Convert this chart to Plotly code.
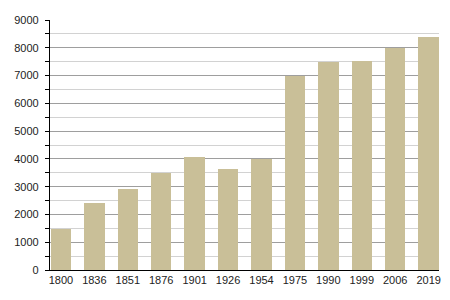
import plotly.graph_objects as go

years = ["1800", "1836", "1851", "1876", "1901", "1926", "1954", "1975", "1990", "1999", "2006", "2019"]
population = [1480, 2430, 2920, 3500, 4080, 3650, 4010, 6990, 7480, 7530, 7980, 8400]
y_ticks = [0, 1000, 2000, 3000, 4000, 5000, 6000, 7000, 8000, 9000]

xs = list(range(len(years)))

fig = go.Figure(go.Bar(
    x=xs, y=population, width=0.61,
    marker=dict(color="#C9BF98", line=dict(width=0)),
))

fig.update_layout(
    width=450, height=300,
    margin=dict(l=50, r=9, t=20, b=30),
    paper_bgcolor="white", plot_bgcolor="white",
    font=dict(family="Liberation Sans, Arial, sans-serif", size=11, color="#222"),
    showlegend=False,
    bargap=0,
)
fig.update_xaxes(
    range=[-0.327, 11.31], tickmode="array", tickvals=xs, ticktext=years,
    showgrid=False, showline=True, linecolor="black", linewidth=1.3,
    ticks="", zeroline=False, tickfont=dict(size=11, color="#222"),
)
fig.update_yaxes(
    range=[0, 9000], tickmode="array", tickvals=y_ticks,
    showgrid=True, gridcolor="#9e9e9e", gridwidth=1,
    showline=True, linecolor="black", linewidth=1.3,
    ticks="outside", ticklen=4, tickcolor="black",
    ticklabelstandoff=4, tickfont=dict(size=11, color="#222"),
    zeroline=False,
    minor=dict(dtick=500, showgrid=True, gridcolor="#d2d2d2", gridwidth=1,
               ticks="outside", ticklen=4, tickcolor="black"),
)

fig.write_html("out.html")
